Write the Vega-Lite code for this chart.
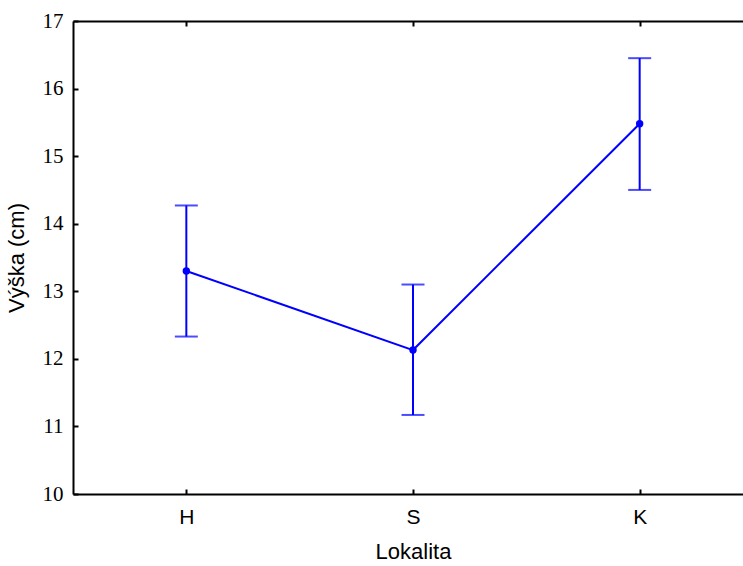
{
  "$schema": "https://vega.github.io/schema/vega-lite/v6.json",
  "autosize": {"type": "none"},
  "padding": {"left": 73, "top": 21, "right": 0, "bottom": 72},
  "width": 680,
  "height": 473,
  "background": "white",
  "config": {
    "view": {"stroke": null},
    "font": "Liberation Sans",
    "axis": {"grid": false, "domainColor": "black", "domainWidth": 2, "tickColor": "black", "tickWidth": 2, "tickSize": 5, "labelColor": "black", "titleColor": "black", "labelFont": "Liberation Sans", "titleFont": "Liberation Sans", "labelFontSize": 21, "titleFontSize": 22, "titleFontWeight": "normal"}
  },
  "resolve": {"axis": {"x": "independent", "y": "independent"}},
  "data": {"values": [
    {"Lokalita": "H", "mean": 13.3, "lo": 12.33, "hi": 14.27},
    {"Lokalita": "S", "mean": 12.13, "lo": 11.17, "hi": 13.1},
    {"Lokalita": "K", "mean": 15.48, "lo": 14.5, "hi": 16.45}
  ]},
  "layer": [
    {
      "mark": {"type": "rule", "color": "#0000ff", "strokeWidth": 2},
      "encoding": {
        "x": {"field": "Lokalita", "type": "nominal", "sort": ["H", "S", "K"],
          "scale": {"type": "point", "padding": 0.5},
          "axis": {"title": "Lokalita", "labelAngle": 0, "ticks": false, "labelPadding": 12, "titlePadding": 14, "labelFontSize": 21}},
        "y": {"field": "lo", "type": "quantitative", "scale": {"domain": [10, 17], "nice": false, "zero": false},
          "axis": {"title": "Výška (cm)", "values": [10, 11, 12, 13, 14, 15, 16, 17], "format": "d", "ticks": false, "labelPadding": 10, "titlePadding": 14, "labelFont": "Liberation Sans Narrow", "labelFontSize": 21, "titleFontSize": 22}},
        "y2": {"field": "hi"}
      }
    },
    {
      "mark": {"type": "tick", "color": "#0000ff", "orient": "horizontal", "size": 23, "thickness": 2},
      "encoding": {
        "x": {"field": "Lokalita", "type": "nominal", "sort": ["H", "S", "K"],
          "axis": {"orient": "top", "offset": -473, "title": null, "labels": false, "domain": false}},
        "y": {"field": "lo", "type": "quantitative",
          "axis": {"orient": "right", "offset": -680, "title": null, "labels": false, "domain": false, "values": [10, 11, 12, 13, 14, 15, 16, 17]}}
      }
    },
    {
      "mark": {"type": "tick", "color": "#0000ff", "orient": "horizontal", "size": 23, "thickness": 2},
      "encoding": {
        "x": {"field": "Lokalita", "type": "nominal", "sort": ["H", "S", "K"],
          "axis": {"orient": "bottom", "offset": -473, "title": null, "labels": false}},
        "y": {"field": "hi", "type": "quantitative", "axis": null}
      }
    },
    {
      "mark": {"type": "line", "color": "#0000ff", "strokeWidth": 2},
      "encoding": {
        "x": {"field": "Lokalita", "type": "nominal", "sort": ["H", "S", "K"], "axis": null},
        "y": {"field": "mean", "type": "quantitative", "axis": null}
      }
    },
    {
      "mark": {"type": "point", "filled": true, "color": "#0000ff", "size": 55, "opacity": 1},
      "encoding": {
        "x": {"field": "Lokalita", "type": "nominal", "sort": ["H", "S", "K"], "axis": null},
        "y": {"field": "mean", "type": "quantitative", "axis": null}
      }
    }
  ]
}
